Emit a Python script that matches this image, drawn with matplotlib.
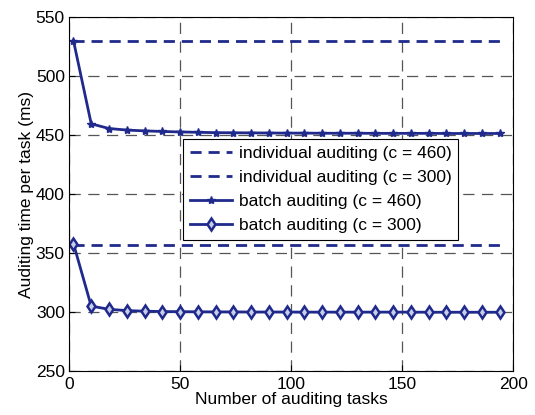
import matplotlib
matplotlib.use("Agg")
import matplotlib.pyplot as plt

plt.rcParams['font.family'] = ['Liberation Sans', 'DejaVu Sans']

tasks = [2, 10, 18, 26, 34, 42, 50, 58, 66, 74, 82, 90, 98, 106, 114, 122,
         130, 138, 146, 154, 162, 170, 178, 186, 194]
indiv_460 = [530] * len(tasks)
indiv_300 = [357] * len(tasks)
batch_460 = [530, 459.5, 455.5, 454.2, 453.5, 453.0, 452.6, 452.3, 452.0, 451.9,
             451.8, 451.7, 451.6, 451.6, 451.5, 451.5, 451.5, 451.4, 451.4, 451.4,
             451.4, 451.3, 451.3, 451.3, 451.3]
batch_300 = [358, 305.0, 302.3, 301.2, 300.7, 300.4, 300.3, 300.2, 300.1, 300.1,
             300.0, 300.0, 300.0, 299.9, 299.9, 299.9, 299.9, 299.9, 299.9, 299.9,
             299.8, 299.8, 299.8, 299.8, 299.8]

navy = '#1f2a8c'

fig = plt.figure(figsize=(5.35, 4.15), dpi=100)
ax = fig.add_axes([0.129, 0.106, 0.830, 0.853])

ax.plot(tasks, indiv_460, '--', color=navy, lw=2, dashes=(4, 2.5),
        label='individual auditing (c = 460)')
ax.plot(tasks, indiv_300, '--', color=navy, lw=2, dashes=(4, 2.5),
        label='individual auditing (c = 300)')
ax.plot(tasks, batch_460, '-', color=navy, lw=2, marker='*', ms=6,
        label='batch auditing (c = 460)')
ax.plot(tasks, batch_300, '-', color=navy, lw=2, marker='d', ms=6,
        mfc='#c8cde8', mec=navy, mew=1.8, label='batch auditing (c = 300)')

ax.set_xlim(0, 200)
ax.set_ylim(250, 550)
ax.set_xticks([0, 50, 100, 150, 200])
ax.set_yticks([250, 300, 350, 400, 450, 500, 550])
ax.grid(True, color='#555555', linestyle=(0, (9, 6)), lw=0.9)
ax.tick_params(direction='in', labelsize=12.5, length=4)
ax.tick_params(axis='x', pad=4)
ax.tick_params(axis='y', pad=3)
ax.set_xlabel('Number of auditing tasks', fontsize=12.5, labelpad=0)
ax.set_ylabel('Auditing time per task (ms)', fontsize=12.5, labelpad=1)

leg = ax.legend(loc='upper left', bbox_to_anchor=(0.257, 0.655), fontsize=12.5,
                frameon=True, fancybox=False, edgecolor='black', framealpha=1,
                handlelength=2.4, borderpad=0.4, labelspacing=0.5,
                handletextpad=0.4, borderaxespad=0)
leg.get_frame().set_linewidth(0.8)

fig.savefig('out.png', dpi=100)
